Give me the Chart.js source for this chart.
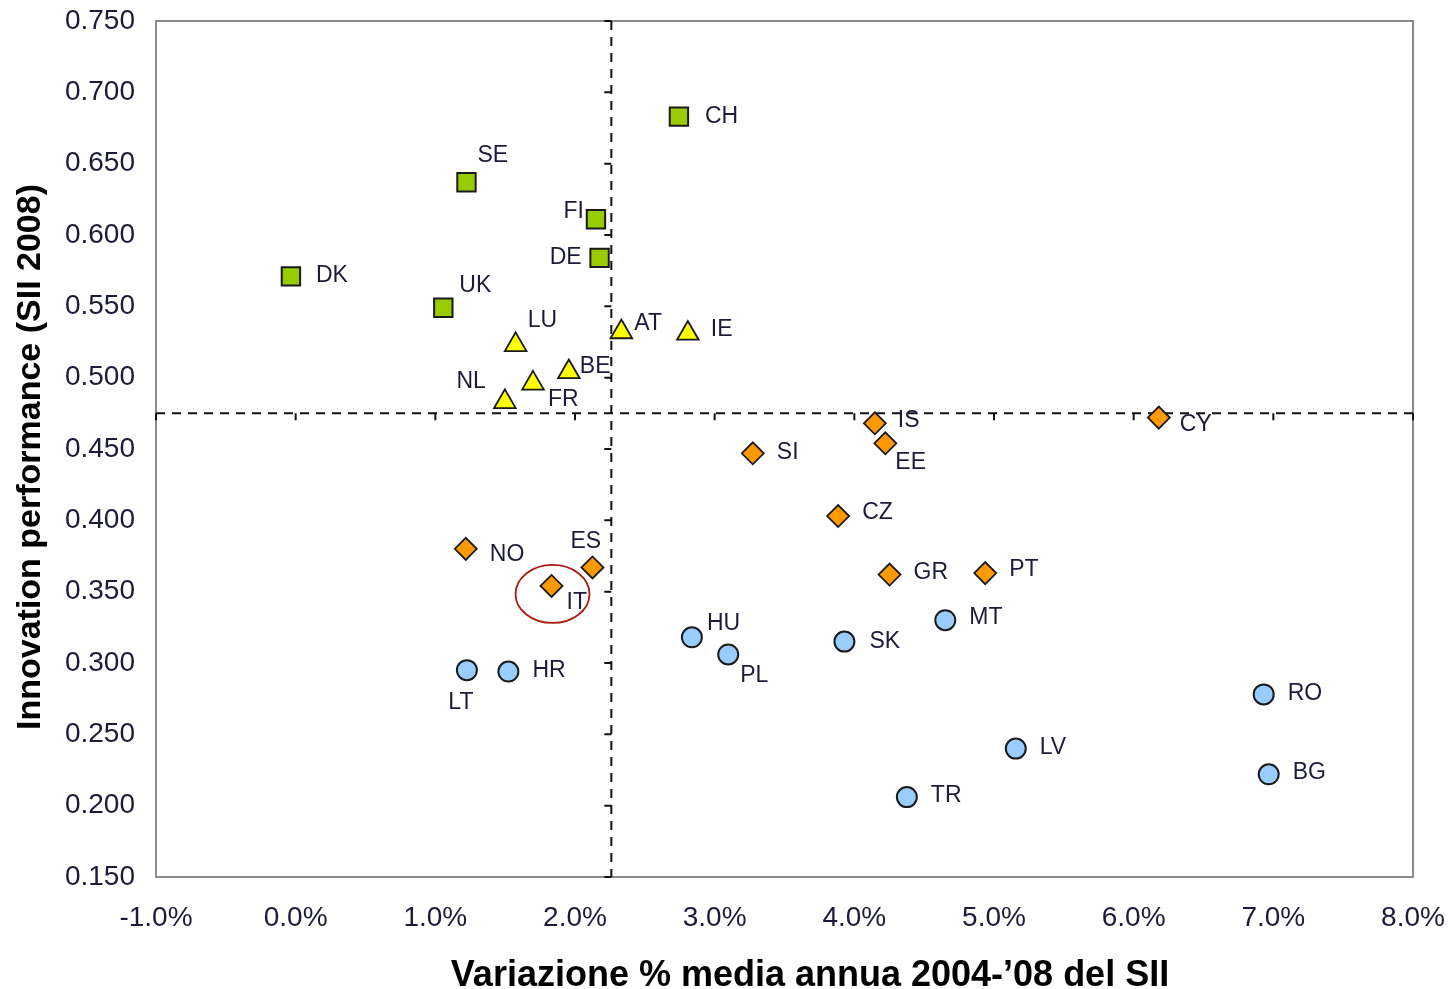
<!DOCTYPE html>
<html>
<head>
<meta charset="utf-8">
<title>Innovation performance vs growth</title>
<script src="https://cdn.jsdelivr.net/npm/chart.js@4.4.1/dist/chart.umd.min.js"></script>
<style>
  html, body { margin: 0; padding: 0; background: #fff; }
  #wrap { width: 1448px; height: 989px; }
</style>
</head>
<body>
<div id="wrap"><canvas id="chart" width="1448" height="989"></canvas></div>
<script>
// innovation leaders
var leaderNames = ['CH', 'SE', 'FI', 'DE', 'DK', 'UK'];
var leaderGrowth = [2.744, 1.223, 2.150, 2.176, -0.034, 1.057];
var leaderSII = [0.683, 0.637, 0.611, 0.584, 0.571, 0.549];

// innovation followers
var followerNames = ['LU', 'AT', 'IE', 'BE', 'FR', 'NL'];
var followerGrowth = [1.575, 2.332, 2.808, 1.956, 1.699, 1.498];
var followerSII = [0.523, 0.532, 0.531, 0.504, 0.496, 0.483];

// moderate innovators
var moderateNames = ['IS', 'CY', 'EE', 'SI', 'CZ', 'NO', 'ES', 'IT', 'GR', 'PT'];
var moderateGrowth = [4.147, 6.180, 4.222, 3.273, 3.884, 1.218, 2.125, 1.832, 4.252, 4.937];
var moderateSII = [0.468, 0.472, 0.454, 0.447, 0.403, 0.380, 0.367, 0.354, 0.362, 0.363];

// catching-up countries
var catchingNames = ['MT', 'HU', 'SK', 'PL', 'LT', 'HR', 'RO', 'LV', 'BG', 'TR'];
var catchingGrowth = [4.651, 2.837, 3.929, 3.097, 1.226, 1.523, 6.931, 5.156, 6.967, 4.376];
var catchingSII = [0.330, 0.318, 0.315, 0.306, 0.295, 0.294, 0.278, 0.240, 0.222, 0.206];

// EU averages (dashed cross)
var avgGrowth = 2.26;
var avgSII = 0.475;

var highlighted = 'IT';

// label offset from the marker: [dx, dy, align]
var labelPos = {
  CH: [26, 0, 'left'], SE: [11, -27, 'left'], FI: [-12, -8, 'right'], DE: [-18, 0, 'right'],
  DK: [25, -1, 'left'], UK: [16, -22, 'left'],
  LU: [12, -24, 'left'], AT: [13, -8, 'left'], IE: [23, -4, 'left'], BE: [11, -5, 'left'],
  FR: [15, 16, 'left'], NL: [-19, -20, 'right'],
  IS: [23, -3, 'left'], CY: [21, 7, 'left'], EE: [10, 19, 'left'], SI: [24, -1, 'left'],
  CZ: [24, -3, 'left'], NO: [24, 6, 'left'], ES: [-22, -26, 'left'], IT: [15, 17, 'left'],
  GR: [24, -2, 'left'], PT: [24, -3, 'left'],
  MT: [24, -3, 'left'], HU: [15, -14, 'left'], SK: [25, 0, 'left'], PL: [12, 21, 'left'],
  LT: [-6, 33, 'center'], HR: [24, -1, 'left'], RO: [24, -1, 'left'], LV: [24, -1, 'left'],
  BG: [24, -2, 'left'], TR: [24, -1, 'left']
};

var textColor = '#1c1c38';
var fontFamily = '"Liberation Sans", Arial, sans-serif';

function points(xs, ys) {
  return xs.map(function (x, i) { return { x: x, y: ys[i] }; });
}

var quadrantPlugin = {
  id: 'quadrants',
  beforeDatasetsDraw: function (chart) {
    var ctx = chart.ctx, a = chart.chartArea;
    var xs = chart.scales.x, ys = chart.scales.y;
    var cx = xs.getPixelForValue(avgGrowth), cy = ys.getPixelForValue(avgSII);
    ctx.save();
    ctx.strokeStyle = '#8c8c8c';
    ctx.lineWidth = 2;
    ctx.strokeRect(a.left, a.top, a.right - a.left, a.bottom - a.top);

    ctx.strokeStyle = '#111';
    ctx.lineWidth = 2;
    ctx.setLineDash([9, 7]);
    ctx.beginPath();
    ctx.moveTo(cx, a.top); ctx.lineTo(cx, a.bottom);
    ctx.moveTo(a.left, cy); ctx.lineTo(a.right, cy);
    ctx.stroke();

    // small ticks on the dashed axes
    ctx.setLineDash([]);
    ctx.beginPath();
    ys.ticks.forEach(function (t) {
      var py = ys.getPixelForValue(t.value);
      ctx.moveTo(cx - 7, py); ctx.lineTo(cx, py);
    });
    xs.ticks.forEach(function (t) {
      var px = xs.getPixelForValue(t.value);
      ctx.moveTo(px, cy); ctx.lineTo(px, cy + 7);
    });
    ctx.stroke();
    ctx.restore();
  },
  afterDatasetsDraw: function (chart) {
    var ctx = chart.ctx;
    ctx.save();
    ctx.font = '23px ' + fontFamily;
    ctx.fillStyle = textColor;
    ctx.textBaseline = 'middle';
    chart.data.datasets.forEach(function (ds, di) {
      var meta = chart.getDatasetMeta(di);
      ds.names.forEach(function (name, i) {
        var pt = meta.data[i], p = labelPos[name] || [20, 0, 'left'];
        ctx.textAlign = p[2];
        ctx.fillText(name, pt.x + p[0], pt.y + p[1]);
        if (name === highlighted) {
          ctx.strokeStyle = '#a81c10';
          ctx.lineWidth = 1.8;
          ctx.beginPath();
          ctx.ellipse(pt.x + 1, pt.y + 8, 37, 29, 0, 0, Math.PI * 2);
          ctx.stroke();
        }
      });
    });

    // axis titles
    ctx.fillStyle = '#000';
    ctx.font = 'bold 36px ' + fontFamily;
    ctx.textAlign = 'center';
    ctx.textBaseline = 'alphabetic';
    ctx.fillText('Variazione % media annua 2004-\u201908 del SII', 810, 986);
    ctx.translate(40, 457);
    ctx.rotate(-Math.PI / 2);
    ctx.font = 'bold 34px ' + fontFamily;
    ctx.fillText('Innovation performance (SII 2008)', 0, 0);
    ctx.restore();
  }
};

var markerBorder = '#1a1a1a';

new Chart(document.getElementById('chart'), {
  type: 'scatter',
  data: {
    datasets: [
      {
        names: leaderNames, data: points(leaderGrowth, leaderSII),
        pointStyle: 'rect', pointRadius: 13, backgroundColor: '#99cc00',
        borderColor: markerBorder, borderWidth: 2
      },
      {
        names: followerNames, data: points(followerGrowth, followerSII),
        pointStyle: 'triangle', pointRadius: 12.5, backgroundColor: '#ffff00',
        borderColor: markerBorder, borderWidth: 1.8
      },
      {
        names: moderateNames, data: points(moderateGrowth, moderateSII),
        pointStyle: 'rectRot', pointRadius: 11, backgroundColor: '#ff9900',
        borderColor: markerBorder, borderWidth: 1.8
      },
      {
        names: catchingNames, data: points(catchingGrowth, catchingSII),
        pointStyle: 'circle', pointRadius: 10, backgroundColor: '#99ccff',
        borderColor: markerBorder, borderWidth: 2
      }
    ]
  },
  options: {
    responsive: false,
    animation: false,
    events: [],
    layout: { padding: { left: 0, top: 21, right: 35, bottom: 0 } },
    plugins: { legend: { display: false }, tooltip: { enabled: false } },
    scales: {
      x: {
        type: 'linear', min: -1, max: 8,
        grid: { display: false, drawTicks: false },
        border: { display: false },
        afterFit: function (s) { s.height = 112; s.paddingLeft = 0; s.paddingRight = 0; },
        ticks: {
          stepSize: 1, padding: 24, color: textColor,
          font: { family: fontFamily, size: 28 },
          callback: function (v) { return v.toFixed(1) + '%'; }
        }
      },
      y: {
        type: 'linear', min: 0.15, max: 0.75,
        grid: { display: false, drawTicks: false },
        border: { display: false },
        afterFit: function (s) { s.width = 156; s.paddingTop = 0; s.paddingBottom = 0; },
        ticks: {
          stepSize: 0.05, padding: 21, color: textColor,
          font: { family: fontFamily, size: 28 },
          callback: function (v) { return v.toFixed(3); }
        }
      }
    }
  },
  plugins: [quadrantPlugin]
});
</script>
</body>
</html>
